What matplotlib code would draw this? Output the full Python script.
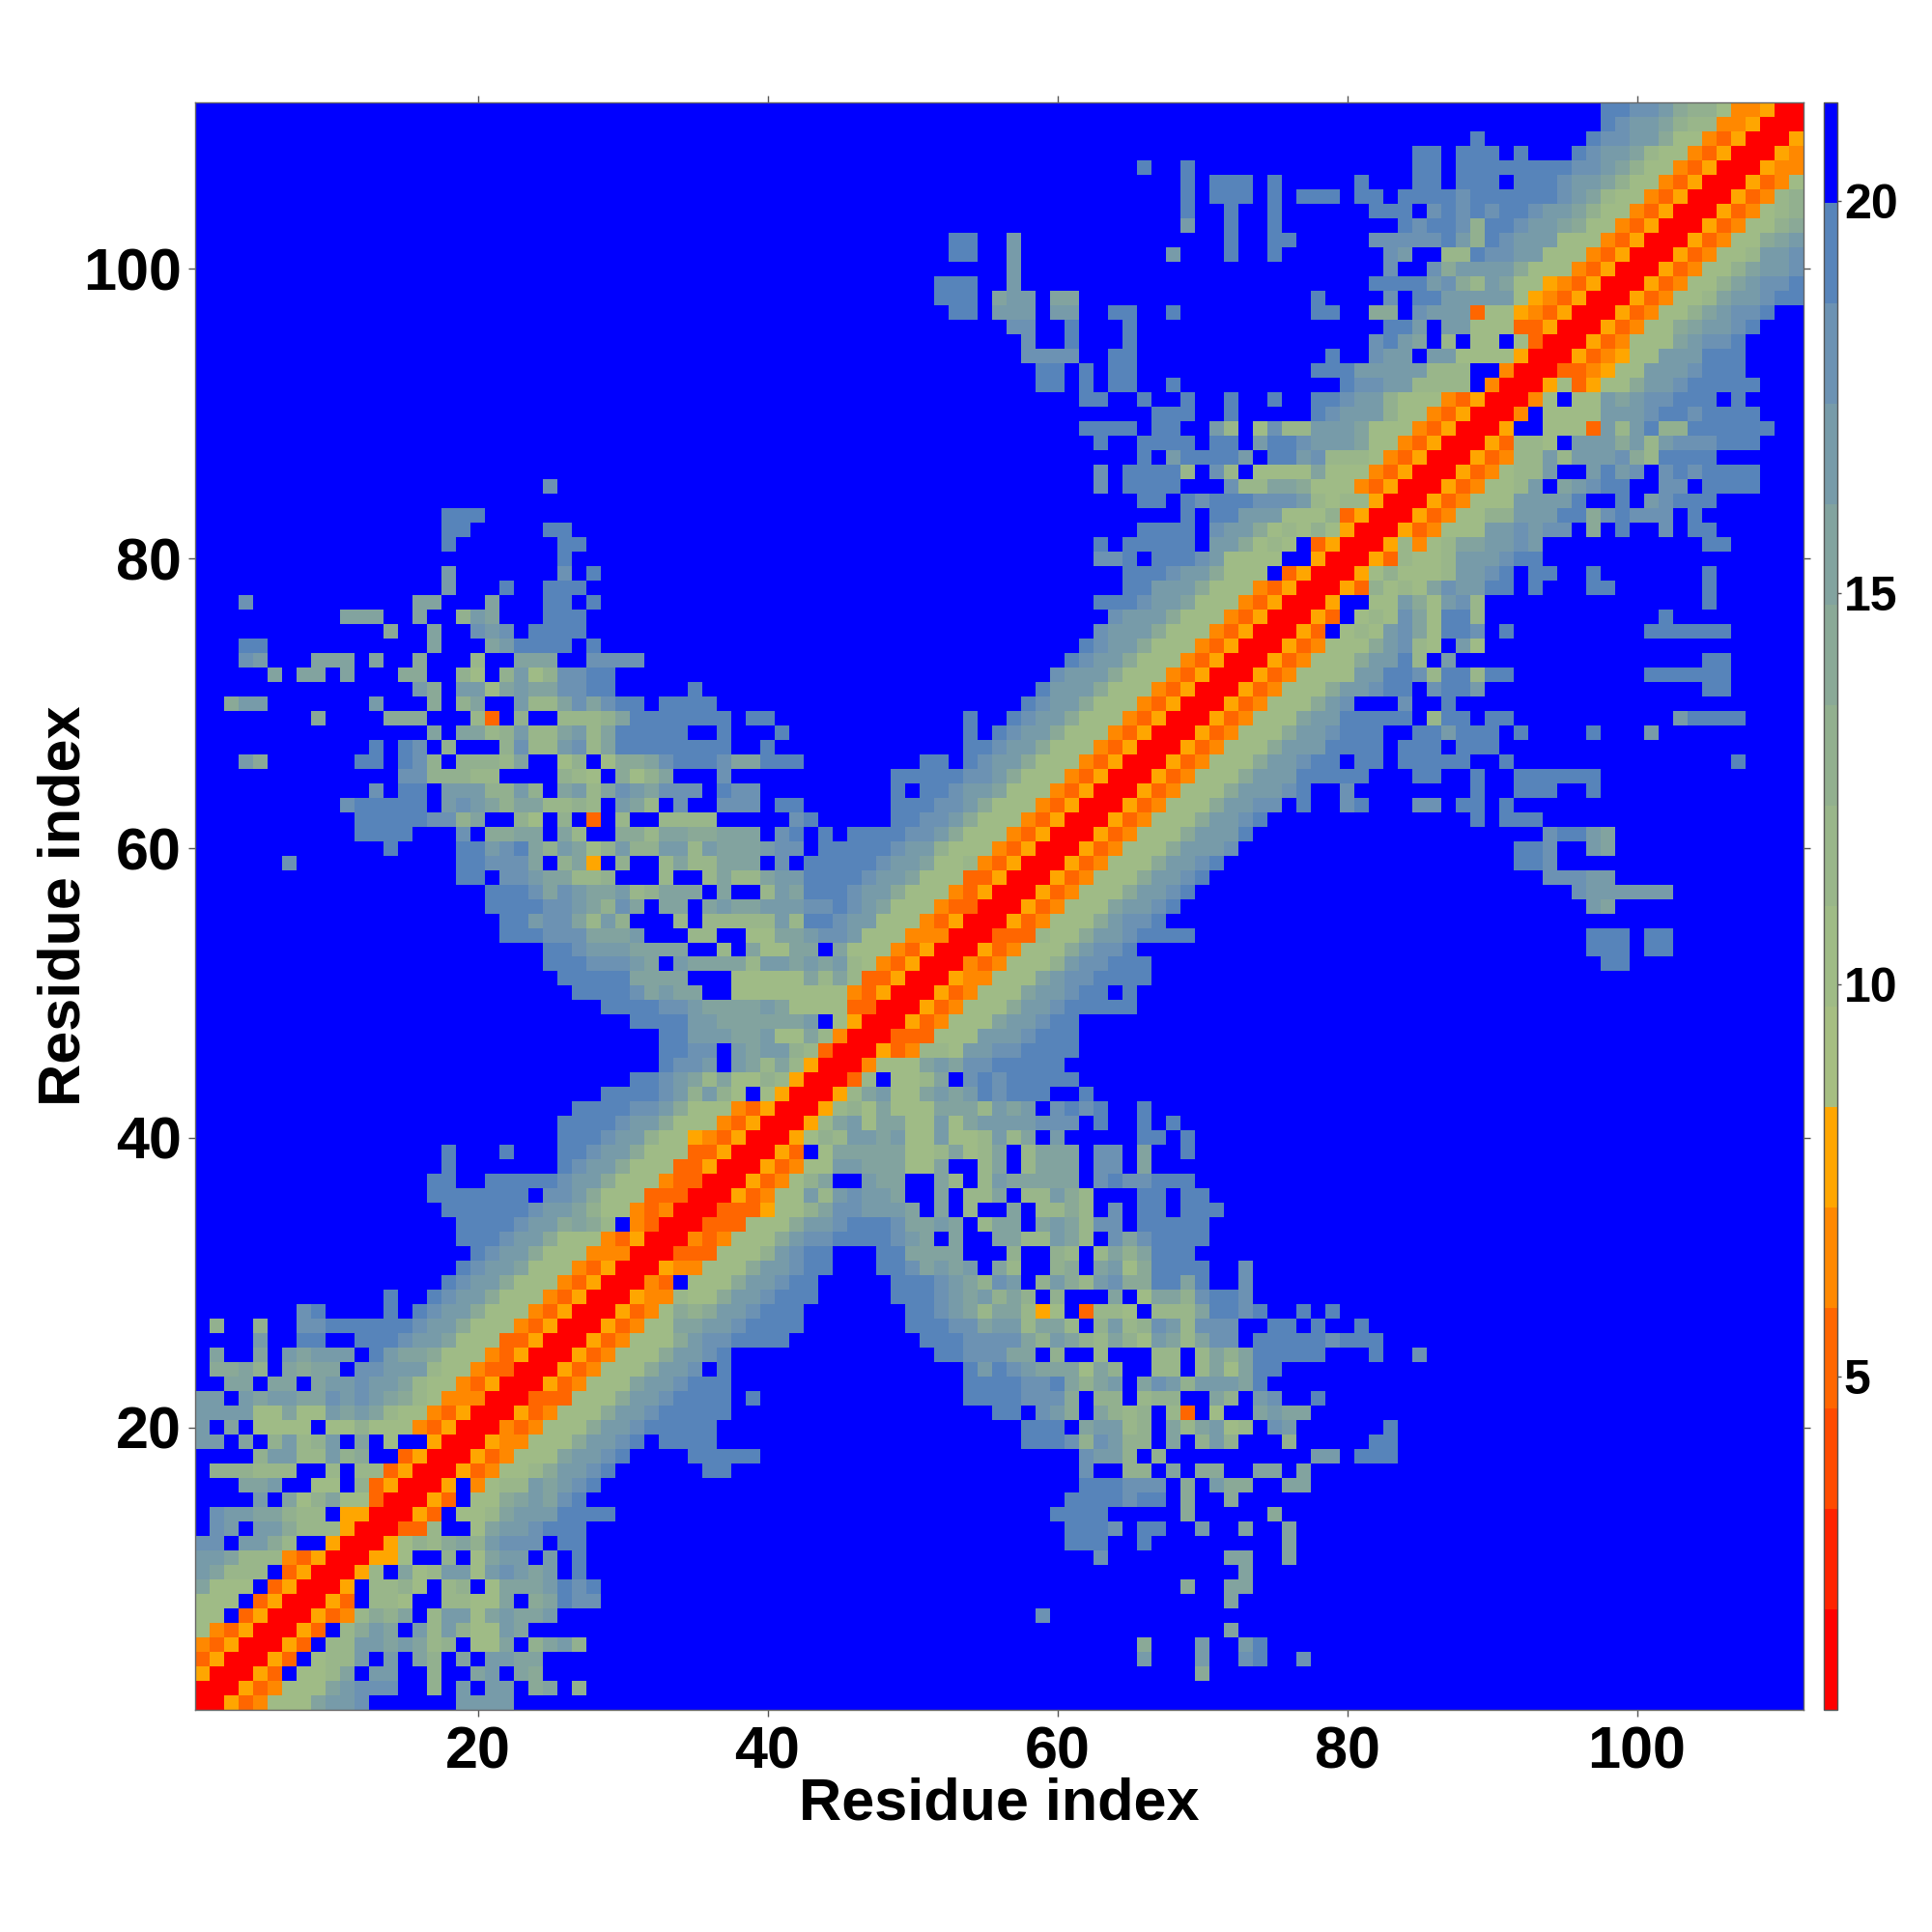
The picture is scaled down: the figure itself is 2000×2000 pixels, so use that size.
import numpy as np
import matplotlib
matplotlib.use("Agg")
import matplotlib.pyplot as plt
from matplotlib.colors import ListedColormap, BoundaryNorm

N_RESIDUES = 111
TICKS_MAIN = [20, 40, 60, 80, 100]
TICKS_BAR = [5, 10, 15, 20]
AXIS_LABEL = "Residue index"
VALUE_MIN = 0.74
BIN_WIDTH = 1.2825
LEVEL_COLORS = ["#FF0000", "#FF2400", "#FF4B00", "#FF6600", "#FF8800", "#FFA600",
                "#A6BE82", "#9FBB86", "#99B68A", "#92B08F", "#8AA997", "#82A39F",
                "#779BA9", "#6C92B3", "#5784BA", "#0000FF"]

# Upper triangle of the symmetric distance map: residue y -> [(first x, level codes)]
# One character per cell: 0-9, a-e are colour levels, '.' is the top (blue) level.
CELLS = {
111: [(98, "eeddca99744500")],
110: [(98, "edccb98844500")],
109: [(89, "e"), (97, "eddcca7743500")],
108: [(85, "ee.eee.e...edccb87743500")],
107: [(66, "e"), (69, "e"), (85, "ee.eeeeeeeeddcb97743500")],
106: [(69, "e"), (71, "eee"), (75, "e"), (81, "e"), (85, "ee.eee.eeedccb97743500")],
105: [(69, "e"), (71, "eee"), (75, "e"), (77, "eee"), (81, "ee.eeeedeeeeeedcb87743500")],
104: [(69, "e"), (72, "e"), (75, "e"), (82, "eee.dededeedccb97743500")],
103: [(69, "c"), (72, "e"), (75, "e"), (84, "edeed9eedccba7743500")],
102: [(53, "ee"), (57, "c"), (72, "e"), (75, "ee"), (82, "dddddec9edccc77743500")],
101: [(53, "ee"), (57, "c"), (68, "c"), (72, "e"), (75, "e"), (83, "dc..88eddcc77743500")],
100: [(57, "c"), (83, "d..dacccca77743500")],
99: [(52, "eee"), (57, "c"), (82, "eeeecda8cb77543500")],
98: [(52, "eee"), (56, "bcc"), (60, "bb"), (78, "e"), (83, "d.eeccccc7543500")],
97: [(53, "ee"), (56, "ccc"), (60, "cc"), (64, "ee"), (68, "e"), (78, "ee"), (82, "aa.dccc377543500")],
96: [(57, "dd"), (61, "e"), (65, "e"), (83, "eec.cc77733500")],
95: [(58, "d"), (61, "e"), (65, "e"), (82, "decb.8.77.7300")],
94: [(58, "dddd"), (64, "ee"), (79, "e"), (82, "dcc.cc7777500")],
93: [(59, "ee"), (62, "e"), (64, "ee"), (78, "eeeccccc888..400")],
92: [(59, "ee"), (62, "e"), (64, "ee"), (68, "e"), (80, "eddcc8888.400")],
91: [(62, "ee"), (66, "e"), (69, "e"), (72, "e"), (75, "e"), (78, "eedcc977743500")],
90: [(67, "eee"), (72, "e"), (78, "edccc97743500")],
89: [(62, "eeee"), (67, "ee"), (71, "c8.7d88cccb77743500")],
88: [(63, "e"), (66, "eeee"), (71, "ee.ceedcccb7743500")],
87: [(66, "e"), (68, "ceeeec.eecd888743500")],
86: [(63, "d"), (65, "eeee8.d8.7777b77743500")],
85: [(25, "d"), (63, "d"), (65, "eeee...d88bba77743500")],
84: [(66, "ee.edeeedddc8788500")],
83: [(18, "eee"), (69, "e.eeccc77793500")],
82: [(18, "ee"), (25, "ee"), (66, "eeee.dcca78797500")],
81: [(18, "e"), (26, "ee"), (63, "e"), (65, "eeeee.cca787.3500")],
80: [(26, "e"), (63, "dde.eeedc7777..500")],
79: [(18, "c"), (26, "d"), (28, "e"), (65, "eeedcca777.3500")],
78: [(18, "c"), (22, "e"), (25, "eee"), (65, "eeccca77743500")],
77: [(4, "d"), (16, "bb"), (21, "b"), (25, "ee"), (28, "e"), (63, "eeedccb77743500")],
76: [(11, "bbb"), (16, "b"), (19, "9cb"), (25, "eee"), (64, "dccca77743500")],
75: [(14, "a"), (17, "b"), (20, "dcd"), (24, "eeee"), (63, "dccca77743500")],
74: [(4, "ee"), (17, "b"), (21, "bc"), (23, "eeee"), (28, "e"), (62, "edcca77743500")],
73: [(4, "dc"), (9, "bbb"), (13, "b"), (16, "a"), (20, "8"), (23, "bbb"), (28, "dddd"), (61, "edcca77743500")],
72: [(6, "b"), (8, "bb"), (11, "b"), (15, "aa"), (19, "97"), (22, "9c79ddee"), (60, "dccca77743500")],
71: [(16, "ca.cc7bcbbddee"), (35, "e"), (59, "eccca77743500")],
70: [(3, "acc"), (13, "c"), (17, "a"), (19, "9b..c88bdbdee"), (33, "eeee"), (58, "edcca77743500")],
69: [(9, "a"), (14, "aaa"), (20, "83.9..8889b"), (31, "eeeeeee"), (39, "ee"), (54, "e"), (57, "edcca77743500")],
68: [(17, "b.bb89c88bc8b"), (30, "eeeee"), (37, "e"), (41, "e"), (54, "e"), (56, "edcca77743500")],
67: [(13, "e"), (15, "ed.9...9d88cd8b"), (30, "eeeeeeee"), (40, "e"), (54, "eedcca77743500")],
66: [(4, "ca"), (12, "ee"), (15, "ed9.9998b..79.7aabdeeedbbeee"), (51, "ee"), (54, "edcca77743500")],
65: [(15, "dd99988....987.a79b...d"), (49, "eeeeeddca77743500")],
64: [(13, "d"), (15, "ee.ccc99c9.bc8bdcbddd.edd"), (49, "e.eedccb77743500")],
63: [(11, "deeeee.cdcb9bb8898.cb8.d..ddd.ee"), (49, "eeeddca77743500")],
62: [(12, "eeeeedd9b..97.9.3.8..8888.....de"), (49, "eeddca77743500")],
61: [(12, "eeee"), (19, "d.aabb.b8..aa8bbaabbb.de.e."), (46, "eeeeddca77743500")],
60: [(14, "e"), (19, "eecdeb9cb79c99cc8cbbbcdd.eeeeedcc977743500")],
59: [(7, "d"), (19, "eedddb.9b5.9..8b88bbb.d.eeeeedccb77843500")],
58: [(19, "ee.ddcbb889...8..8b88bcceeeedccb77733500")],
57: [(21, "eeedbdcbbc89bbb.b..8cbeeedcca77743500")],
56: [(21, "eeeeddcb9db.bb.bcbbcccddedcb77743300")],
55: [(22, "eecddb8c9...8.88888c8eedcc77743500")],
54: [(22, "eeedddbbbc...88..77bbcddc77744400")],
53: [(25, "eedcccbbbb..8.b77bb.b77743500")],
52: [(25, "eeedddcb.cbbbb8ccbcbc8743500")],
51: [(26, "eeeeebbbb...77777b8b833500")],
50: [(27, "eeeedbcbb..7777777743500")],
49: [(29, "eeeeddcbbbbcb77773300")],
48: [(31, "eeeeccbbbbbbc.7500")],
47: [(33, "eecccbbc77b8400")],
46: [(33, "eedd.cbcc98300")],
45: [(33, "eddc.cb8b8500")],
44: [(31, "eedcb8b7798500")],
43: [(29, "eeeedc9c97.7500")],
42: [(27, "eeeeddca77743500")],
41: [(26, "eeeedcca77743500")],
40: [(26, "eeedcc977543500")],
39: [(18, "e"), (22, "e"), (26, "eedcca77733500")],
38: [(18, "e"), (26, "edcca77733500")],
37: [(17, "ee"), (21, "eeeeedcca77743300")],
36: [(17, "eeeeeee.ddca77733300")],
35: [(18, "eeeeeedccb97743400")],
34: [(19, "eeeedccaba8.4300")],
33: [(19, "eeedcca77743500")],
32: [(20, "edcca77744400")],
31: [(19, "edccb77743500")],
30: [(18, "edcca77743500")],
29: [(14, "e"), (17, "edcca77743500")],
28: [(8, "de"), (14, "e"), (16, "edcca77743500")],
27: [(2, "9"), (5, "9"), (8, "ddeeeeeedcca77743500")],
26: [(5, "c"), (8, "ee..eeedccb77733500")],
25: [(2, "b"), (5, "b"), (7, "cbccc.ecbba77743500")],
24: [(2, "aab9.babb.ddccc87743300")],
23: [(3, "bb.bb.bccdccb87743500")],
22: [(1, "cc.cbccbbdcdcba8744400")],
21: [(1, "cccc77b77cbcb87743500")],
20: [(1, "c.b.7777.77977743500")],
19: [(1, "cc.b.9c89c.b.7..500")],
18: [(5, "9cc88c9a..3500")],
17: [(2, "999888..8.883500")],
16: [(4, "bbc..77.93500")],
15: [(5, "c.b79b77300")],
14: [(2, "dccbb988.5500")],
13: [(2, "dc.cca888500")],
12: [(1, "dd.cca8..500")],
11: [(1, "ccb88843500")],
10: [(1, "cb888.3500")],
9: [(1, "b777.3500")],
8: [(1, "777.3500")],
7: [(1, "77.3500")],
6: [(1, "743500")],
5: [(1, "43500")],
4: [(1, "3500")],
3: [(1, "500")],
2: [(1, "00")],
1: [(1, "0")],
}

n_levels = len(LEVEL_COLORS)
bounds = VALUE_MIN + BIN_WIDTH * np.arange(n_levels + 1)
centres = 0.5 * (bounds[:-1] + bounds[1:])

grid = np.full((N_RESIDUES, N_RESIDUES), centres[-1])
for y, segments in CELLS.items():
    for start, codes in segments:
        for offset, code in enumerate(codes):
            level = n_levels - 1 if code == "." else int(code, 16)
            x = start + offset
            grid[y - 1, x - 1] = centres[level]
            grid[x - 1, y - 1] = centres[level]

plt.rcParams["font.family"] = ["Liberation Sans", "DejaVu Sans"]
plt.rcParams["font.weight"] = "bold"

W, H = 2000, 2000
fig = plt.figure(figsize=(W / 100, H / 100), dpi=100, facecolor="white")
ax = fig.add_axes([202 / W, 1 - 1770 / H, 1665 / W, 1664 / H])
cax = fig.add_axes([1888 / W, 1 - 1770 / H, 14 / W, 1664 / H])

cmap = ListedColormap(LEVEL_COLORS)
norm = BoundaryNorm(bounds, cmap.N)
im = ax.imshow(grid, origin="lower", extent=(0.5, N_RESIDUES + 0.5, 0.5, N_RESIDUES + 0.5),
               aspect="auto", cmap=cmap, norm=norm, interpolation="nearest")

ax.set_xticks(TICKS_MAIN)
ax.set_yticks(TICKS_MAIN)
ax.tick_params(axis="both", which="major", direction="out", length=5, width=1, color="#555555",
               labelsize=44, top=True, right=True, labeltop=False, labelright=False)
ax.tick_params(axis="x", pad=7)
ax.tick_params(axis="y", pad=5)
ax.set_xlabel(AXIS_LABEL, fontsize=44, fontweight="bold", labelpad=-3)
ax.set_ylabel(AXIS_LABEL, fontsize=44, fontweight="bold", labelpad=-7)
for s in ax.spines.values():
    s.set_linewidth(1)
    s.set_color("#666666")

cb = fig.colorbar(im, cax=cax, ticks=TICKS_BAR, spacing="proportional", drawedges=False)
cb.ax.tick_params(labelsize=36, length=3, width=1, color="#555555", pad=2)
cb.ax.minorticks_off()
cb.outline.set_linewidth(1)
cb.outline.set_edgecolor("#555555")
for label in cb.ax.get_yticklabels():
    label.set_fontweight("bold")

fig.savefig("out.png", dpi=100, facecolor="white")
